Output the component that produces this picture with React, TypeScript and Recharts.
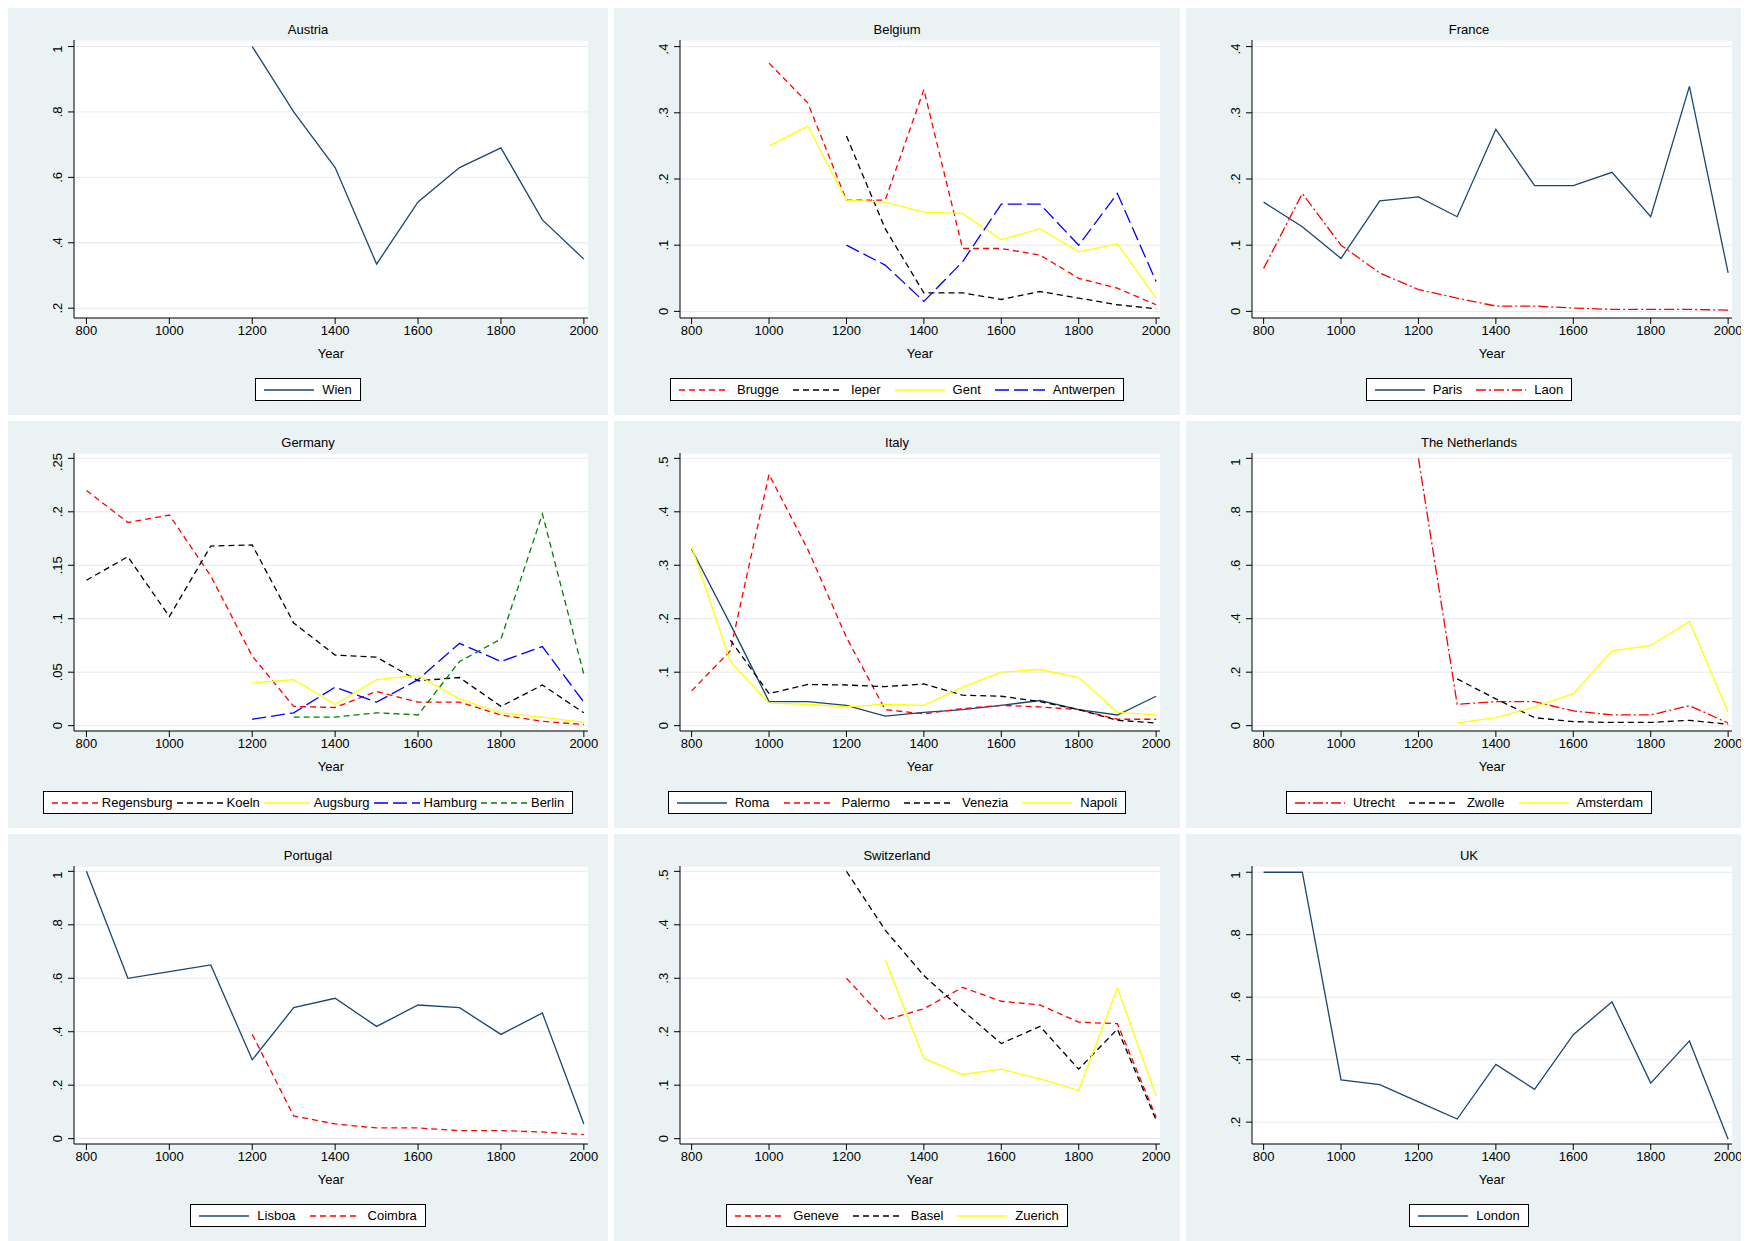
import React from "react";
import { LineChart, Line, XAxis, YAxis, CartesianGrid } from "recharts";

const years = [800, 900, 1000, 1100, 1200, 1300, 1400, 1500, 1600, 1700, 1800, 1900, 2000];
const N = null;

const wien = [N, N, N, N, 1.0, 0.8, 0.63, 0.335, 0.525, 0.63, 0.69, 0.47, 0.35];
const brugge = [N, N, 0.375, 0.315, 0.168, 0.168, 0.335, 0.095, 0.095, 0.085, 0.05, 0.035, 0.01];
const ieper = [N, N, N, N, 0.265, 0.125, 0.028, 0.028, 0.018, 0.03, 0.02, 0.01, 0.004];
const gent = [N, N, 0.25, 0.28, 0.168, 0.165, 0.15, 0.148, 0.108, 0.125, 0.09, 0.102, 0.02];
const antwerpen = [N, N, N, N, 0.1, 0.07, 0.015, 0.075, 0.162, 0.162, 0.1, 0.178, 0.045];
const paris = [0.165, 0.128, 0.08, 0.167, 0.173, 0.143, 0.275, 0.19, 0.19, 0.21, 0.143, 0.34, 0.058];
const laon = [0.065, 0.178, 0.1, 0.058, 0.033, 0.02, 0.008, 0.008, 0.005, 0.003, 0.003, 0.003, 0.002];
const regensburg = [0.22, 0.19, 0.197, 0.14, 0.065, 0.018, 0.017, 0.032, 0.022, 0.022, 0.01, 0.004, 0.001];
const koeln = [0.136, 0.158, 0.102, 0.168, 0.169, 0.096, 0.066, 0.064, 0.042, 0.045, 0.018, 0.038, 0.012];
const augsburg = [N, N, N, N, 0.04, 0.043, 0.02, 0.043, 0.047, 0.025, 0.012, 0.008, 0.003];
const hamburg = [N, N, N, N, 0.006, 0.012, 0.036, 0.022, 0.043, 0.077, 0.06, 0.074, 0.022];
const berlin = [N, N, N, N, N, 0.008, 0.008, 0.012, 0.01, 0.06, 0.081, 0.198, 0.048];
const roma = [0.33, 0.19, 0.045, 0.045, 0.038, 0.018, 0.025, 0.03, 0.038, 0.047, 0.03, 0.02, 0.055];
const palermo = [0.065, 0.14, 0.47, 0.33, 0.165, 0.03, 0.022, 0.032, 0.038, 0.035, 0.03, 0.012, 0.012];
const venezia = [N, 0.16, 0.06, 0.077, 0.076, 0.073, 0.078, 0.057, 0.055, 0.045, 0.03, 0.01, 0.005];
const napoli = [0.335, 0.12, 0.042, 0.04, 0.035, 0.04, 0.038, 0.072, 0.1, 0.105, 0.09, 0.025, 0.02];
const utrecht = [N, N, N, N, 1.0, 0.08, 0.09, 0.09, 0.055, 0.04, 0.04, 0.075, 0.01];
const zwolle = [N, N, N, N, N, 0.175, 0.1, 0.03, 0.015, 0.012, 0.012, 0.02, 0.005];
const amsterdam = [N, N, N, N, N, 0.01, 0.03, 0.07, 0.12, 0.28, 0.3, 0.39, 0.05];
const lisboa = [1.0, 0.6, 0.625, 0.65, 0.295, 0.49, 0.525, 0.42, 0.5, 0.49, 0.39, 0.47, 0.055];
const coimbra = [N, N, N, N, 0.39, 0.085, 0.055, 0.04, 0.04, 0.03, 0.03, 0.025, 0.015];
const geneve = [N, N, N, N, 0.3, 0.222, 0.243, 0.283, 0.257, 0.25, 0.218, 0.215, 0.04];
const basel = [N, N, N, N, 0.5, 0.39, 0.305, 0.24, 0.178, 0.21, 0.13, 0.205, 0.035];
const zuerich = [N, N, N, N, N, 0.335, 0.15, 0.12, 0.13, 0.112, 0.09, 0.282, 0.08];
const london = [1.0, 1.0, 0.335, 0.32, 0.265, 0.21, 0.385, 0.305, 0.48, 0.585, 0.325, 0.46, 0.145];

const xTicks = [800, 1000, 1200, 1400, 1600, 1800, 2000];
const NAVY = "#1a476f";
const RED = "#ff0000";
const BLK = "#000000";
const YEL = "#ffff00";
const BLU = "#0000ff";
const GRN = "#008000";
const SOLID = "";
const DASH = "6 4";
const LDASH = "14 5";
const DASHDOT = "10 3 2 3";

type S = { name: string; data: (number | null)[]; color: string; dash: string };
type P = { title: string; series: S[]; domain: [number, number]; ticks: number[] };

const panels: P[] = [
  { title: "Austria", domain: [0.17, 1.02], ticks: [0.2, 0.4, 0.6, 0.8, 1], series: [{ name: "Wien", data: wien, color: NAVY, dash: SOLID }] },
  { title: "Belgium", domain: [-0.01, 0.41], ticks: [0, 0.1, 0.2, 0.3, 0.4], series: [
    { name: "Brugge", data: brugge, color: RED, dash: DASH },
    { name: "Ieper", data: ieper, color: BLK, dash: DASH },
    { name: "Gent", data: gent, color: YEL, dash: SOLID },
    { name: "Antwerpen", data: antwerpen, color: BLU, dash: LDASH }] },
  { title: "France", domain: [-0.01, 0.41], ticks: [0, 0.1, 0.2, 0.3, 0.4], series: [
    { name: "Paris", data: paris, color: NAVY, dash: SOLID },
    { name: "Laon", data: laon, color: RED, dash: DASHDOT }] },
  { title: "Germany", domain: [-0.005, 0.255], ticks: [0, 0.05, 0.1, 0.15, 0.2, 0.25], series: [
    { name: "Regensburg", data: regensburg, color: RED, dash: DASH },
    { name: "Koeln", data: koeln, color: BLK, dash: DASH },
    { name: "Augsburg", data: augsburg, color: YEL, dash: SOLID },
    { name: "Hamburg", data: hamburg, color: BLU, dash: LDASH },
    { name: "Berlin", data: berlin, color: GRN, dash: DASH }] },
  { title: "Italy", domain: [-0.01, 0.51], ticks: [0, 0.1, 0.2, 0.3, 0.4, 0.5], series: [
    { name: "Roma", data: roma, color: NAVY, dash: SOLID },
    { name: "Palermo", data: palermo, color: RED, dash: DASH },
    { name: "Venezia", data: venezia, color: BLK, dash: DASH },
    { name: "Napoli", data: napoli, color: YEL, dash: SOLID }] },
  { title: "The Netherlands", domain: [-0.02, 1.02], ticks: [0, 0.2, 0.4, 0.6, 0.8, 1], series: [
    { name: "Utrecht", data: utrecht, color: RED, dash: DASHDOT },
    { name: "Zwolle", data: zwolle, color: BLK, dash: DASH },
    { name: "Amsterdam", data: amsterdam, color: YEL, dash: SOLID }] },
  { title: "Portugal", domain: [-0.02, 1.02], ticks: [0, 0.2, 0.4, 0.6, 0.8, 1], series: [
    { name: "Lisboa", data: lisboa, color: NAVY, dash: SOLID },
    { name: "Coimbra", data: coimbra, color: RED, dash: DASH }] },
  { title: "Switzerland", domain: [-0.01, 0.51], ticks: [0, 0.1, 0.2, 0.3, 0.4, 0.5], series: [
    { name: "Geneve", data: geneve, color: RED, dash: DASH },
    { name: "Basel", data: basel, color: BLK, dash: DASH },
    { name: "Zuerich", data: zuerich, color: YEL, dash: SOLID }] },
  { title: "UK", domain: [0.13, 1.02], ticks: [0.2, 0.4, 0.6, 0.8, 1], series: [{ name: "London", data: london, color: NAVY, dash: SOLID }] },
];

const colW = [600, 566, 566];
const rowH = 407;
const FONT = "Arial, 'Liberation Sans', sans-serif";

const fmt = (v: number) => (v === 1 ? "1" : v === 0 ? "0" : String(v).replace(/^0/, ""));

const YTick = (props: any) => {
  const { x, y, payload } = props;
  return (
    <text x={x - 4} y={y} transform={`rotate(-90 ${x - 4} ${y})`} textAnchor="middle" fontSize={13} fill="#000" fontFamily={FONT}>
      {fmt(payload.value)}
    </text>
  );
};

function Panel({ p, w }: { p: P; w: number }) {
  const rows = years.map((yr, i) => {
    const r: any = { year: yr };
    p.series.forEach((s) => (r[s.name] = s.data[i]));
    return r;
  });
  const many = p.series.length > 4;
  return (
    <div style={{ width: w, height: rowH, background: "#eaf2f3", position: "relative", fontFamily: FONT }}>
      <div style={{ position: "absolute", top: 14, width: "100%", textAlign: "center", fontSize: 13 }}>{p.title}</div>
      <div style={{ position: "absolute", top: 32, left: 0 }}>
        <LineChart width={w} height={320} data={rows} margin={{ top: 0, right: 20, bottom: 12, left: 0 }}>
          <CartesianGrid vertical={false} stroke="#e6eaec" fill="#ffffff" />
          <XAxis dataKey="year" type="number" domain={[770, 2010]} ticks={xTicks} tick={{ fontSize: 13, fill: "#000" }} stroke="#000"
            label={{ value: "Year", position: "insideBottom", offset: -10, fontSize: 13, fill: "#000" }} />
          <YAxis domain={p.domain} ticks={p.ticks} tick={<YTick />} stroke="#000" width={66} allowDataOverflow />
          {p.series.map((s) => (
            <Line key={s.name} dataKey={s.name} stroke={s.color} strokeDasharray={s.dash || undefined} strokeWidth={1.3} dot={false} isAnimationActive={false} connectNulls={false} type="linear" />
          ))}
        </LineChart>
      </div>
      <div style={{ position: "absolute", bottom: 14, width: "100%", display: "flex", justifyContent: "center" }}>
        <div style={{ border: "1px solid #000", background: "#fff", display: "flex", padding: "3px 8px", gap: many ? 4 : 14, fontSize: 13 }}>
          {p.series.map((s) => (
            <div key={s.name} style={{ display: "flex", alignItems: "center", gap: many ? 4 : 8 }}>
              <svg width={many ? 46 : 50} height={6}><line x1={0} y1={3} x2={many ? 46 : 50} y2={3} stroke={s.color} strokeWidth={1.3} strokeDasharray={s.dash || undefined} /></svg>
              <span>{s.name}</span>
            </div>
          ))}
        </div>
      </div>
    </div>
  );
}

export default function App() {
  return (
    <div style={{ display: "grid", gridTemplateColumns: colW.map((c) => c + "px").join(" "), gap: 6, width: 1745 }}>
      {panels.map((p, i) => <Panel key={p.title} p={p} w={colW[i % 3]} />)}
    </div>
  );
}
